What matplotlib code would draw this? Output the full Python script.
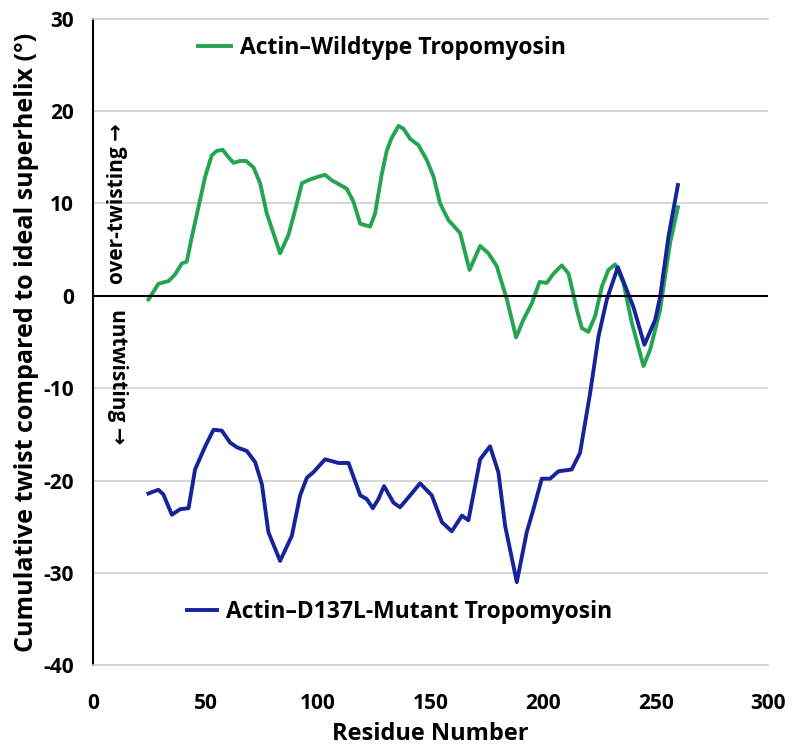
import matplotlib.pyplot as plt
from matplotlib.lines import Line2D

plt.rcParams['font.family'] = ['Open Sans', 'DejaVu Sans']
plt.rcParams['axes.unicode_minus'] = False

# residue numbers / cumulative twist (deg)
wt_x = [24.6, 29.0, 33.5, 36.4, 39.4, 41.6, 43.9, 46.8, 49.8, 52.7, 55.0, 57.6, 60.2,
        62.4, 65.3, 68.0, 71.3, 74.2, 77.2, 80.1, 83.1, 86.8, 89.8, 92.8, 96.4, 100.1,
        103.1, 106.1, 109.8, 112.7, 115.7, 118.7, 123.1, 125.3, 128.3, 130.5, 132.5,
        135.7, 137.9, 140.9, 144.6, 148.3, 151.3, 154.2, 157.9, 163.1, 167.3, 172,
        175.7, 179.4, 183.9, 188, 191.2, 195, 198.4, 201.6, 204.6, 208.3, 211.3, 215,
        217.2, 220.1, 223.1, 226.1, 229, 232, 235.7, 239.4, 244.6, 247.6, 252, 256.4,
        259.9]
wt_y = [-0.4, 1.3, 1.6, 2.3, 3.5, 3.7, 6.4, 9.6, 12.9, 15.2, 15.7, 15.8, 15.0,
        14.4, 14.6, 14.6, 13.9, 12.2, 8.9, 6.8, 4.6, 6.6, 9.3, 12.2, 12.6, 12.9,
        13.1, 12.5, 12.0, 11.6, 10.2, 7.8, 7.5, 8.9, 13.2, 15.7, 17.0,
        18.4, 18.1, 17.0, 16.3, 14.7, 12.9, 10.0, 8.2, 6.8, 2.8, 5.4,
        4.6, 3.2, -0.4, -4.5, -2.6, -0.8, 1.5, 1.4, 2.4, 3.3, 2.4, -1.5,
        -3.5, -3.9, -2.2, 1.0, 2.8, 3.4, 1.4, -2.9, -7.6, -5.8, -1.5, 5.7,
        9.6]

mut_x = [24.6, 29, 31.2, 35, 38.7, 42.4, 45.3, 49.8, 53.5, 57.2, 60.9, 63.9, 68.3,
         72, 75, 77.9, 83.1, 88.3, 92, 95, 97.9, 103.1, 109, 113.5, 118.7, 121.6,
         124.3, 126.8, 129.3, 133.5, 136.4, 140.9, 145.3, 150.5, 155, 159.4, 163.9,
         166.8, 172, 176.4, 180.1, 183.1, 188.3, 192.7, 195.7, 199.4, 203.1, 206.8,
         212.7, 216.4, 220.9, 224.6, 228.3, 233.2, 240.1, 245, 249.8, 252, 255.7,
         259.9]
mut_y = [-21.4, -21.0, -21.5, -23.7, -23.1, -23.0, -18.8, -16.3, -14.5, -14.6, -15.9, -16.4, -16.8,
         -18.0, -20.4, -25.6, -28.7, -26.0, -21.6, -19.7, -19.1, -17.7, -18.1, -18.1, -21.6, -22.0,
         -23.0, -22.0, -20.6, -22.4, -22.9, -21.6, -20.3, -21.6, -24.5, -25.5, -23.8,
         -24.3, -17.7, -16.3, -19.1, -24.9, -31.0, -25.6, -23.1, -19.8, -19.8, -19.0,
         -18.8, -17.0, -10.5, -4.4, -0.4, 3.1, -1.2, -5.3, -2.6, -0.1, 6.4,
         12.0]

green = '#25a552'
navy = '#17239a'

fig = plt.figure(figsize=(7.96, 7.5), dpi=100)
ax = fig.add_axes([0.117, 0.113, 0.848, 0.862])

ax.plot(wt_x, wt_y, color=green, lw=2.8, solid_joinstyle='round')
ax.plot(mut_x, mut_y, color=navy, lw=2.8, solid_joinstyle='round')
ax.axhline(0, color='black', lw=1.5)

ax.set_xlim(0, 300)
ax.set_ylim(-40, 30)
ax.set_xticks(range(0, 301, 50))
ax.set_yticks(range(-40, 31, 10))
ax.yaxis.grid(True, color='#d0d0d0', lw=1.2)
ax.set_axisbelow(True)
ax.spines['right'].set_visible(False)
ax.spines['top'].set_color('#d0d0d0')
ax.spines['top'].set_linewidth(1.2)
ax.spines['left'].set_linewidth(1.5)
ax.spines['bottom'].set_color('#d0d0d0')
ax.spines['bottom'].set_linewidth(1.2)
ax.tick_params(length=0, labelsize=15)
ax.tick_params(axis='x', pad=20)
ax.tick_params(axis='y', pad=14)
for lab in ax.get_xticklabels() + ax.get_yticklabels():
    lab.set_fontweight('bold')

ax.set_xlabel('Residue Number', fontsize=17, fontweight='bold', labelpad=6)
ax.set_ylabel('Cumulative twist compared to ideal superhelix (°)', fontsize=18,
              fontweight='bold', labelpad=3)

ax.text(11, 10, 'over-twisting →', rotation=90, ha='center', va='center',
        fontsize=15, fontweight='bold')
ax.text(11, -8.8, 'untwisting →', rotation=270, ha='center', va='center',
        fontsize=15, fontweight='bold')

leg1 = ax.legend([Line2D([], [], color=green, lw=2.8)], ['Actin–Wildtype Tropomyosin'],
                 loc='center left', bbox_to_anchor=(0.156, 0.955), frameon=False,
                 borderpad=0, borderaxespad=0, handlelength=1.4, handletextpad=0.4,
                 prop={'size': 16.5, 'weight': 'bold'})
ax.add_artist(leg1)
ax.legend([Line2D([], [], color=navy, lw=2.8)], ['Actin–D137L-Mutant Tropomyosin'],
          loc='center left', bbox_to_anchor=(0.139, 0.082), frameon=False,
          borderpad=0, borderaxespad=0, handlelength=1.3, handletextpad=0.4,
          prop={'size': 16.5, 'weight': 'bold'})

fig.savefig('out.png', dpi=100)
